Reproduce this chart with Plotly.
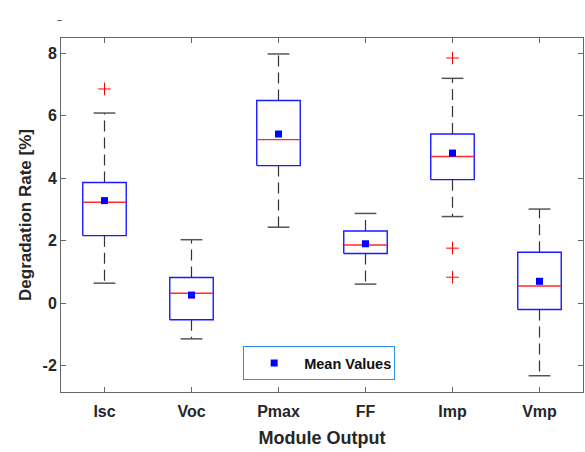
import plotly.graph_objects as go

categories = ["Isc", "Voc", "Pmax", "FF", "Imp", "Vmp"]
whisker_low = [0.64, -1.14, 2.43, 0.61, 2.77, -2.32]
q1 = [2.16, -0.53, 4.40, 1.59, 3.95, -0.20]
median = [3.23, 0.32, 5.23, 1.86, 4.69, 0.55]
q3 = [3.86, 0.82, 6.48, 2.31, 5.41, 1.63]
whisker_high = [6.08, 2.03, 7.97, 2.87, 7.19, 3.01]
means = [3.28, 0.26, 5.41, 1.90, 4.80, 0.70]
outlier_cat = ["Isc", "Imp", "Imp", "Imp"]
outlier_val = [6.85, 7.84, 1.76, 0.83]
y_ticks = [-2, 0, 2, 4, 6, 8]
y_tick_labels = ["-2", "0", "2", "4", "6", "8"]

pos = list(range(1, len(categories) + 1))
half_box = 0.25
half_cap = 0.125

wx, wy, cx, cy, bx, by, mx, my = [], [], [], [], [], [], [], []
for p, lo, a, m, b, hi in zip(pos, whisker_low, q1, median, q3, whisker_high):
    wx += [p, p, None, p, p, None]
    wy += [b, hi, None, a, lo, None]
    cx += [p - half_cap, p + half_cap, None, p - half_cap, p + half_cap, None]
    cy += [hi, hi, None, lo, lo, None]
    bx += [p - half_box, p + half_box, p + half_box, p - half_box, p - half_box, None]
    by += [a, a, b, b, a, None]
    mx += [p - half_box, p + half_box, None]
    my += [m, m, None]

FONT = "Liberation Sans, Arial"

fig = go.Figure()
fig.add_trace(go.Scatter(x=wx, y=wy, mode="lines", showlegend=False, hoverinfo="skip",
                         line=dict(color="#333333", width=1.2, dash="11px,6px")))
fig.add_trace(go.Scatter(x=cx, y=cy, mode="lines", showlegend=False, hoverinfo="skip",
                         line=dict(color="#555555", width=1.5)))
fig.add_trace(go.Scatter(x=bx, y=by, mode="lines", showlegend=False, hoverinfo="skip",
                         line=dict(color="#1a1aff", width=1.4)))
fig.add_trace(go.Scatter(x=mx, y=my, mode="lines", showlegend=False, hoverinfo="skip",
                         line=dict(color="#ff2a2a", width=1.4)))
fig.add_trace(go.Scatter(x=[pos[categories.index(c)] for c in outlier_cat], y=outlier_val,
                         mode="markers", showlegend=False,
                         marker=dict(symbol="cross-thin", size=9, line=dict(color="#ff0000", width=1))))
fig.add_trace(go.Scatter(x=pos, y=means, mode="markers", name="Mean Values",
                         marker=dict(symbol="square", size=7, color="#0000ff")))

axis_common = dict(showline=True, linecolor="#666666", linewidth=1, mirror="ticks",
                   ticks="inside", ticklen=5, tickcolor="#666666", showgrid=False, zeroline=False,
                   tickfont=dict(family=FONT, size=16, color="#262626", weight="bold"))

fig.update_layout(
    width=585, height=452,
    margin=dict(l=61, r=2, t=38, b=60),
    plot_bgcolor="white", paper_bgcolor="white",
    xaxis=dict(range=[0.5, 6.5], tickvals=pos, ticktext=categories, ticklabelstandoff=5,
               title=dict(text="Module Output", standoff=12,
                          font=dict(family=FONT, size=18, color="#262626", weight="bold")),
               **axis_common),
    yaxis=dict(range=[-2.84, 8.48], tickvals=y_ticks, ticktext=y_tick_labels,
               title=dict(text="Degradation Rate [%]", standoff=6,
                          font=dict(family=FONT, size=17, color="#262626", weight="bold")),
               **axis_common),
    legend=dict(x=0.349, y=0.13, xanchor="left", yanchor="top",
                bordercolor="#2f8fdf", borderwidth=1, bgcolor="white",
                orientation="h", entrywidth=85, itemwidth=50,
                font=dict(family=FONT, size=14.5, color="#111111", weight="bold")),
)
fig.add_annotation(text="–", xref="paper", yref="paper", x=-0.012, y=1.08, showarrow=False,
                   font=dict(size=10, color="#333333"))

fig.write_html("out.html")
